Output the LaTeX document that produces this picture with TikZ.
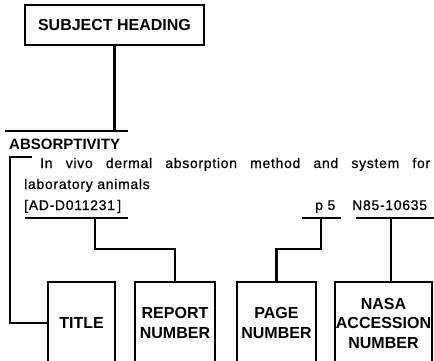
\documentclass[tikz,border=0pt]{standalone}
\usepackage{fontspec}
\setmainfont{Liberation Sans}
\newfontfamily\entryfont{Liberation Sans}[LetterSpace=5, FakeBold=0.6]
\usetikzlibrary{calc, positioning}

\tikzset{
  heavyline/.style={line width=2.3pt},
  fieldbox/.style={draw, line width=2.3pt, inner sep=0pt, align=center,
    font=\fontsize{16}{19.5}\selectfont\bfseries},
  entrytext/.style={inner sep=0pt, anchor=base west,
    font=\entryfont\fontsize{14}{16}\selectfont},
}

\begin{document}
\begin{tikzpicture}[x=1pt, y=-1pt]
    \clip (0,0) rectangle (434,361);

    % Subject heading box
    \node[fieldbox, minimum width=179pt, minimum height=40pt] (subj) at (114.5,25) {SUBJECT HEADING};

    % Rule over the entry
    \coordinate (rulew) at (5,131);
    \coordinate (rulee) at (128,131);
    \draw[heavyline] (rulew) -- (rulee);
    \draw[heavyline] (subj.south) -- (subj.south |- rulew);

    % Citation entry
    \node[entrytext, font=\fontsize{15}{16}\selectfont\bfseries] (heading) at (9,149) {ABSORPTIVITY};
    \node[entrytext] (title1) at (40,168) {\makebox[390pt][s]{In vivo dermal absorption method and system for}};
    \node[entrytext] (title2) at (24,189) {laboratory animals};
    \node[entrytext] (repno) at (24,210) {[AD-D011231\,]};
    \node[entrytext] (pageno) at (315,210) {p 5};
    \node[entrytext] (accno) at (352,210) {N85-10635};

    % Underlines
    \coordinate (repw) at (25,218);
    \coordinate (repe) at (128,218);
    \coordinate (pagew) at (302,218);
    \coordinate (pagee) at (341,218);
    \coordinate (accw) at (356,218);
    \coordinate (acce) at (434,218);
    \draw[heavyline] (repw) -- (repe);
    \draw[heavyline] (pagew) -- (pagee);
    \draw[heavyline] (accw) -- (acce);

    % Field boxes (open at the bottom edge)
    \node[fieldbox, minimum width=67pt, minimum height=82pt] (title) at (81.5,323) {TITLE};
    \node[fieldbox, minimum width=80pt, minimum height=82pt] (report) at (175,323) {REPORT\\NUMBER};
    \node[fieldbox, minimum width=79pt, minimum height=82pt] (page) at (276.5,323) {PAGE\\NUMBER};
    \node[fieldbox, minimum width=97pt, minimum height=82pt] (nasa) at (383.5,323) {NASA\\ACCESSION\\NUMBER};

    % Connectors
    \coordinate (tdash) at (32,157);
    \coordinate (tcorner) at (10,157);
    \coordinate (repjoin) at (95,218);
    \coordinate (pagejoin) at (321,218);
    \coordinate (accjoin) at (391,218);
    \draw[heavyline] (tdash) -- (tcorner) |- (title.west);
    \draw[heavyline] (repjoin) -- ++(0,31) -| (report.north);
    \draw[heavyline] (pagejoin) -- ++(0,31) -| (page.north);
    \draw[heavyline] (accjoin) -- (accjoin |- nasa.north);

\end{tikzpicture}
\end{document}
